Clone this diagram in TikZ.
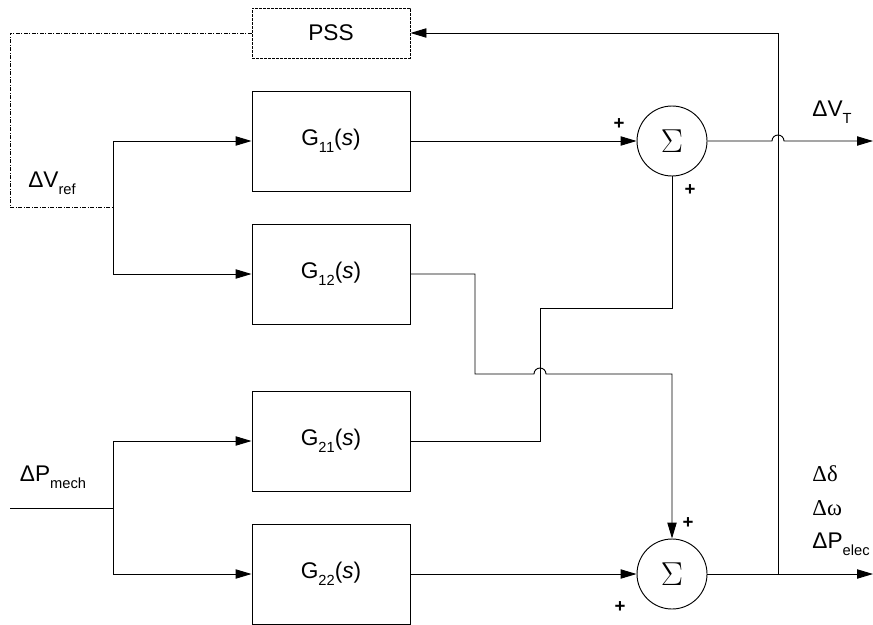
\documentclass[tikz,border=0pt]{standalone}
\usepackage{fontspec}
\setmainfont{Liberation Sans}
\newfontfamily\greekserif{Liberation Serif}
\usetikzlibrary{arrows.meta,calc}
\newcommand{\lowsub}[1]{\raisebox{-0.6ex}{\fontsize{11}{13}\selectfont #1}}

\begin{document}
\begin{tikzpicture}[x=0.75pt, y=-0.75pt, font=\fontsize{17}{20}\selectfont,
  line width=0.7pt,
  blockbox/.style={draw, minimum width=118.5pt, minimum height=75pt, inner sep=0pt},
  sumnode/.style={draw, circle, minimum size=52.5pt, inner sep=0pt,
    font=\fontsize{23}{24}\selectfont},
  sig/.style={-{Triangle[length=12pt,width=7pt]}},
  pluslabel/.style={font=\fontsize{14}{14}\selectfont\bfseries},
  outlabel/.style={anchor=west, inner sep=0pt}]
		\useasboundingbox (0,0) rectangle (873,624);
		% blocks
		\node[blockbox, minimum height=37.5pt, dash pattern=on 2pt off 1pt] (pss) at (331,33) {PSS};
		\node[blockbox] (g11) at (331,141) {G\lowsub{11}(\textit{s})};
		\node[blockbox] (g12) at (331,274) {G\lowsub{12}(\textit{s})};
		\node[blockbox] (g21) at (331,441) {G\lowsub{21}(\textit{s})};
		\node[blockbox] (g22) at (331,574) {G\lowsub{22}(\textit{s})};
		% summing junctions
		\node[sumnode] (sum1) at (672,141) {$\Sigma$};
		\node[sumnode] (sum2) at (672,574) {$\Sigma$};
		% branch points and line ends
		\coordinate (fbcorner) at (10,207);
		\coordinate (vref) at (113,207);
		\coordinate (pin) at (10,508);
		\coordinate (pmech) at (113,508);
		\coordinate (c12) at (475,374);
		\coordinate (c21) at (540,308);
		\coordinate (tap) at (778,574);
		\coordinate (out1) at (873,141);
		\coordinate (out2) at (873,574);
		% inputs
		\node (vreflbl) at (52,183) {ΔV\lowsub{ref}};
		\node (pmechlbl) at (53,477) {ΔP\lowsub{mech}};
		\draw[sig] (vref) |- (g11.west);
		\draw[sig] (vref) |- (g12.west);
		\draw (pin) -- (pmech);
		\draw[sig] (pmech) |- (g21.west);
		\draw[sig] (pmech) |- (g22.west);
		% stabiliser feedback
		\draw[dash pattern=on 3pt off 1pt on 1pt off 1pt] (pss.west) -| (fbcorner) -- (vref);
		\draw[sig] (tap) |- (pss.east);
		% cross paths into the summing junctions
		\draw[sig] (g11.east) -- (sum1.west);
		\draw (g21.east) -| (c21) -| (sum1.south);
		\draw[sig] (g12.east) -| (c12) -- ([xshift=-4.5pt]c12 -| c21)
			arc[start angle=180, end angle=0, radius=4.5pt] -| (sum2.north);
		\draw[sig] (g22.east) -- (sum2.west);
		% outputs
		\draw[sig] (sum1.east) -- ([xshift=-4.5pt]sum1.east -| tap)
			arc[start angle=180, end angle=0, radius=4.5pt] -- (out1);
		\draw[sig] (sum2.east) -- (out2);
		\node[outlabel] (vtlbl) at (812,112) {ΔV\lowsub{T}};
		\node[outlabel] (dlbl) at (812,474) {\greekserif Δδ};
		\node[outlabel] (wlbl) at (812,508) {\greekserif Δω};
		\node[outlabel] (pelbl) at (812,544) {ΔP\lowsub{elec}};
		% signs
		\node[pluslabel] (p1) at (619,124) {+};
		\node[pluslabel] (p2) at (690,190) {+};
		\node[pluslabel] (p3) at (688,523) {+};
		\node[pluslabel] (p4) at (620,607) {+};
	\end{tikzpicture}
\end{document}
